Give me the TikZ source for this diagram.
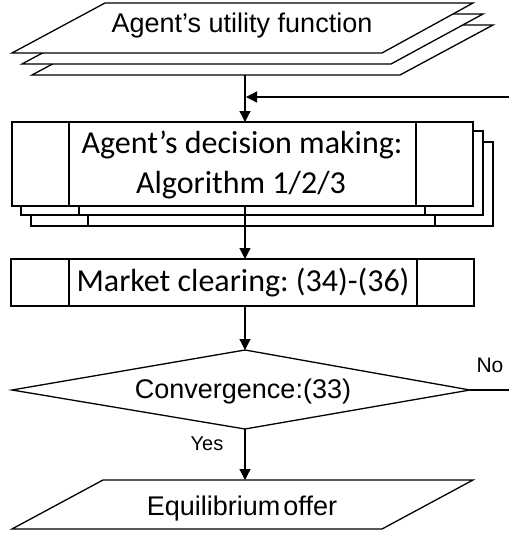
\documentclass[tikz,border=0pt]{standalone}
\usepackage{fontspec}
\setmainfont{Carlito}
\newfontfamily\arialf{Liberation Sans}
\usetikzlibrary{arrows.meta}
\frenchspacing
\begin{document}
\begin{tikzpicture}[x=1pt,y=-1pt,
  shp/.style={draw=black, fill=white, line width=1.3pt, line join=miter},
  ln/.style={draw=black, line width=1.3pt},
  arr/.style={ln, -{Triangle[length=11pt,width=11pt]}},
  txt/.style={inner sep=0pt, anchor=base},
  atxt/.style={txt, font=\arialf\fontsize{27}{32}\selectfont},
  ctxt/.style={txt, font=\fontsize{32}{40}\selectfont}]
\useasboundingbox (0,0) rectangle (509,535);
% top parallelogram stack
\draw[shp] (125,25) -- (493,25) -- (400,75) -- (32,75) -- cycle;
\draw[shp] (115,14) -- (483,14) -- (391,64) -- (22,64) -- cycle;
\draw[shp] (105,3) -- (473,3) -- (382,53) -- (12,53) -- cycle;
\node[atxt] (util) at (242,33) {Agent’s utility function};
\coordinate (utilB) at (245,75);
% decision stack
\draw[shp] (31,142) rectangle (493,226);
\draw[ln] (88,142) -- (88,226) (435,142) -- (435,226);
\draw[shp] (21,131) rectangle (483,215);
\draw[ln] (79,131) -- (79,215) (425,131) -- (425,215);
\draw[shp] (12,122) rectangle (473,206);
\draw[ln] (69,122) -- (69,206) (416,122) -- (416,206);
\node[ctxt] (dec1) at (242,153) {Agent’s decision making:};
\node[ctxt] (dec2) at (241,193) {Algorithm 1/2/3};
\coordinate (decT) at (245,122);
\coordinate (decB) at (245,206);
% feedback
\coordinate (fbR) at (509,97);
\coordinate (fbL) at (246,97);
\draw[arr] (utilB) -- (decT);
\draw[arr] (fbR) -- (fbL);
% market
\draw[shp] (11,259) rectangle (474,306);
\draw[ln] (69,259) -- (69,306) (417,259) -- (417,306);
\node[ctxt] (mkt) at (243,291) {Market clearing: (34)-(36)};
\coordinate (mktT) at (245,259);
\coordinate (mktB) at (245,306);
\draw[arr] (decB) -- (mktT);
% diamond
\coordinate (dT) at (245,350);
\coordinate (dR) at (470,390);
\coordinate (dB) at (245,429);
\coordinate (dL) at (12,390);
\draw[shp] (dT) -- (dR) -- (dB) -- (dL) -- cycle;
\node[atxt] (conv) at (243,398) {Convergence:(33)};
\draw[arr] (mktB) -- (dT);
\coordinate (noE) at (509,390);
\draw[ln] (dR) -- (noE);
\node[txt, font=\arialf\fontsize{21}{24}\selectfont] (no) at (490,372) {No};
% bottom parallelogram
\draw[shp] (103,480) -- (473,480) -- (382,529) -- (12,529) -- cycle;
\node[atxt] (eq) at (242,515) {Equilibrium\hspace{3pt}offer};
\coordinate (eqT) at (245,480);
\draw[arr] (dB) -- (eqT);
\node[txt, font=\arialf\fontsize{20}{24}\selectfont] (yes) at (207,450) {Yes};
\end{tikzpicture}
\end{document}
